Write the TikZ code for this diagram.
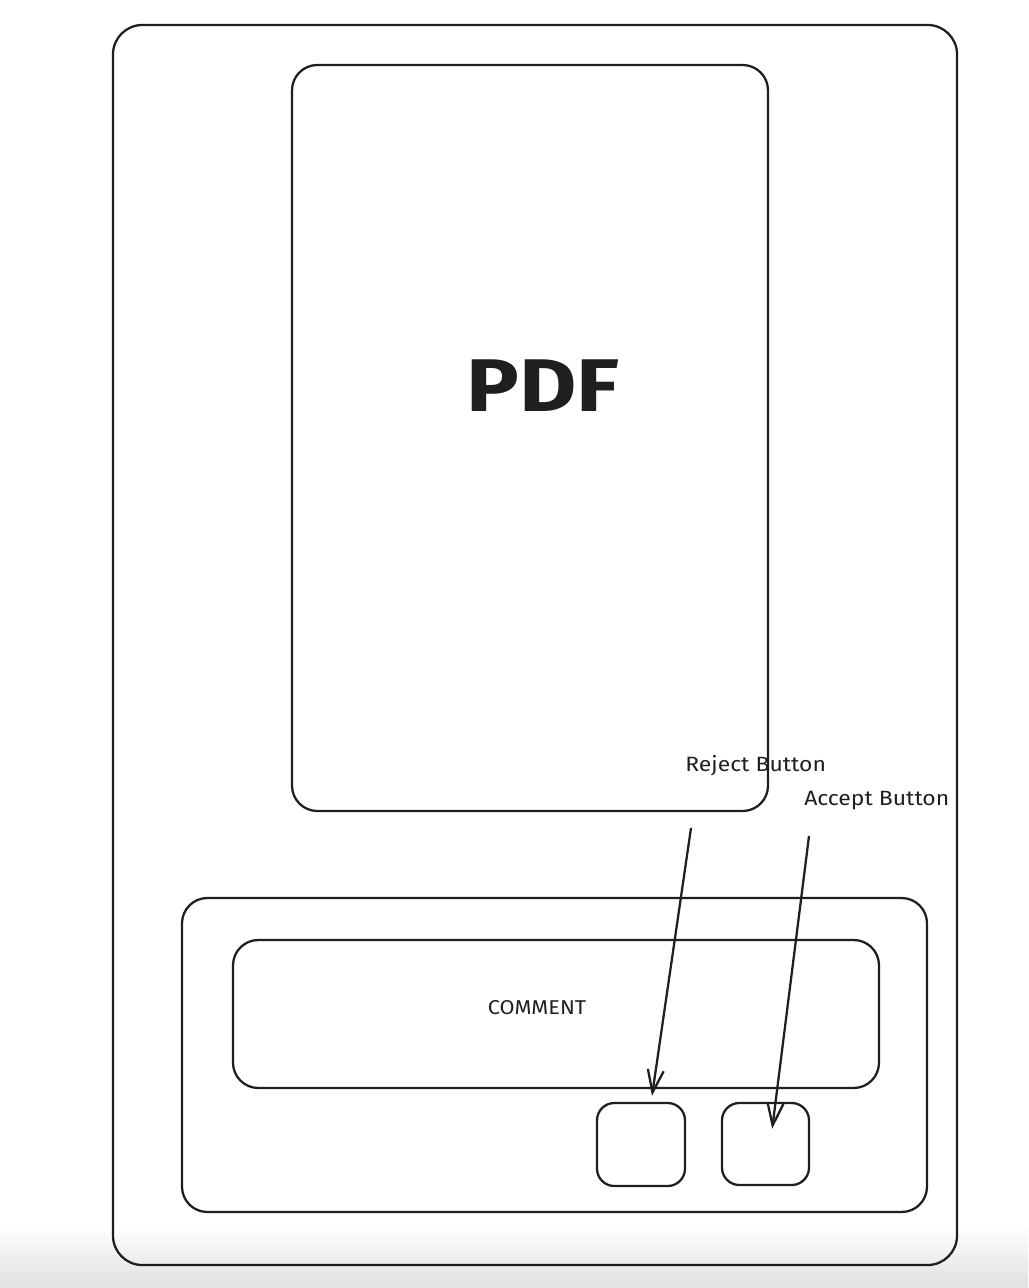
\documentclass[tikz,border=0pt]{standalone}
\usepackage{fontspec}
\setmainfont{Fira Sans}
\usetikzlibrary{arrows.meta}
\begin{document}
\begin{tikzpicture}[x=0.75pt,y=-0.75pt,
  frame/.style={draw=black!88, line width=1.7pt, rectangle, inner sep=0pt},
  lbl/.style={font=\fontsize{15.5}{17}\selectfont, text=black!88, inner sep=0pt, anchor=west},
  conn/.style={draw=black!88, line width=1.7pt, -{Straight Barb[length=17pt,width=12pt,line width=1.7pt]}}
]
\useasboundingbox (0,0) rectangle (1028,1288);
\shade[top color=white, bottom color=black!12] (0,1225) rectangle (1028,1288);
% frames
\node[frame, rounded corners=22pt, minimum width=633pt, minimum height=930pt] (outer) at (535,645) {};
\node[frame, rounded corners=19pt, minimum width=357pt, minimum height=559.5pt] (pdf) at (530,438) {};
\node[frame, rounded corners=19pt, minimum width=558.75pt, minimum height=235.5pt] (panel) at (554.5,1055) {};
\node[frame, rounded corners=19pt, minimum width=484.5pt, minimum height=111pt] (comment) at (556,1014) {};
\node[frame, rounded corners=13pt, minimum width=66pt, minimum height=62.25pt] (reject) at (641,1144.5) {};
\node[frame, rounded corners=13pt, minimum width=65.25pt, minimum height=61.5pt] (accept) at (765.5,1144) {};
% texts
\node[font=\fontsize{56}{60}\selectfont\bfseries, text=black!88, inner sep=0pt] (pdftext) at (543,386) {\scalebox{1.18}[1]{PDF}};
\node[font=\fontsize{15}{17}\selectfont, text=black!88, inner sep=0pt] (commenttext) at (537,1008) {\scalebox{1.09}[1]{COMMENT}};
\node[lbl] (rejlbl) at (685,766) {\scalebox{1.11}[1]{Reject Button}};
\node[lbl] (acclbl) at (804,801) {\scalebox{1.11}[1]{Accept Button}};
% connectors
\coordinate (rejstart) at (691,828);
\coordinate (accstart) at (809,836);
\draw[conn] (rejstart) -- ([xshift=8.25pt,yshift=4.5pt]reject.north);
\draw[conn] (accstart) -- ([xshift=5pt,yshift=-20.25pt]accept.north);
\end{tikzpicture}
\end{document}
